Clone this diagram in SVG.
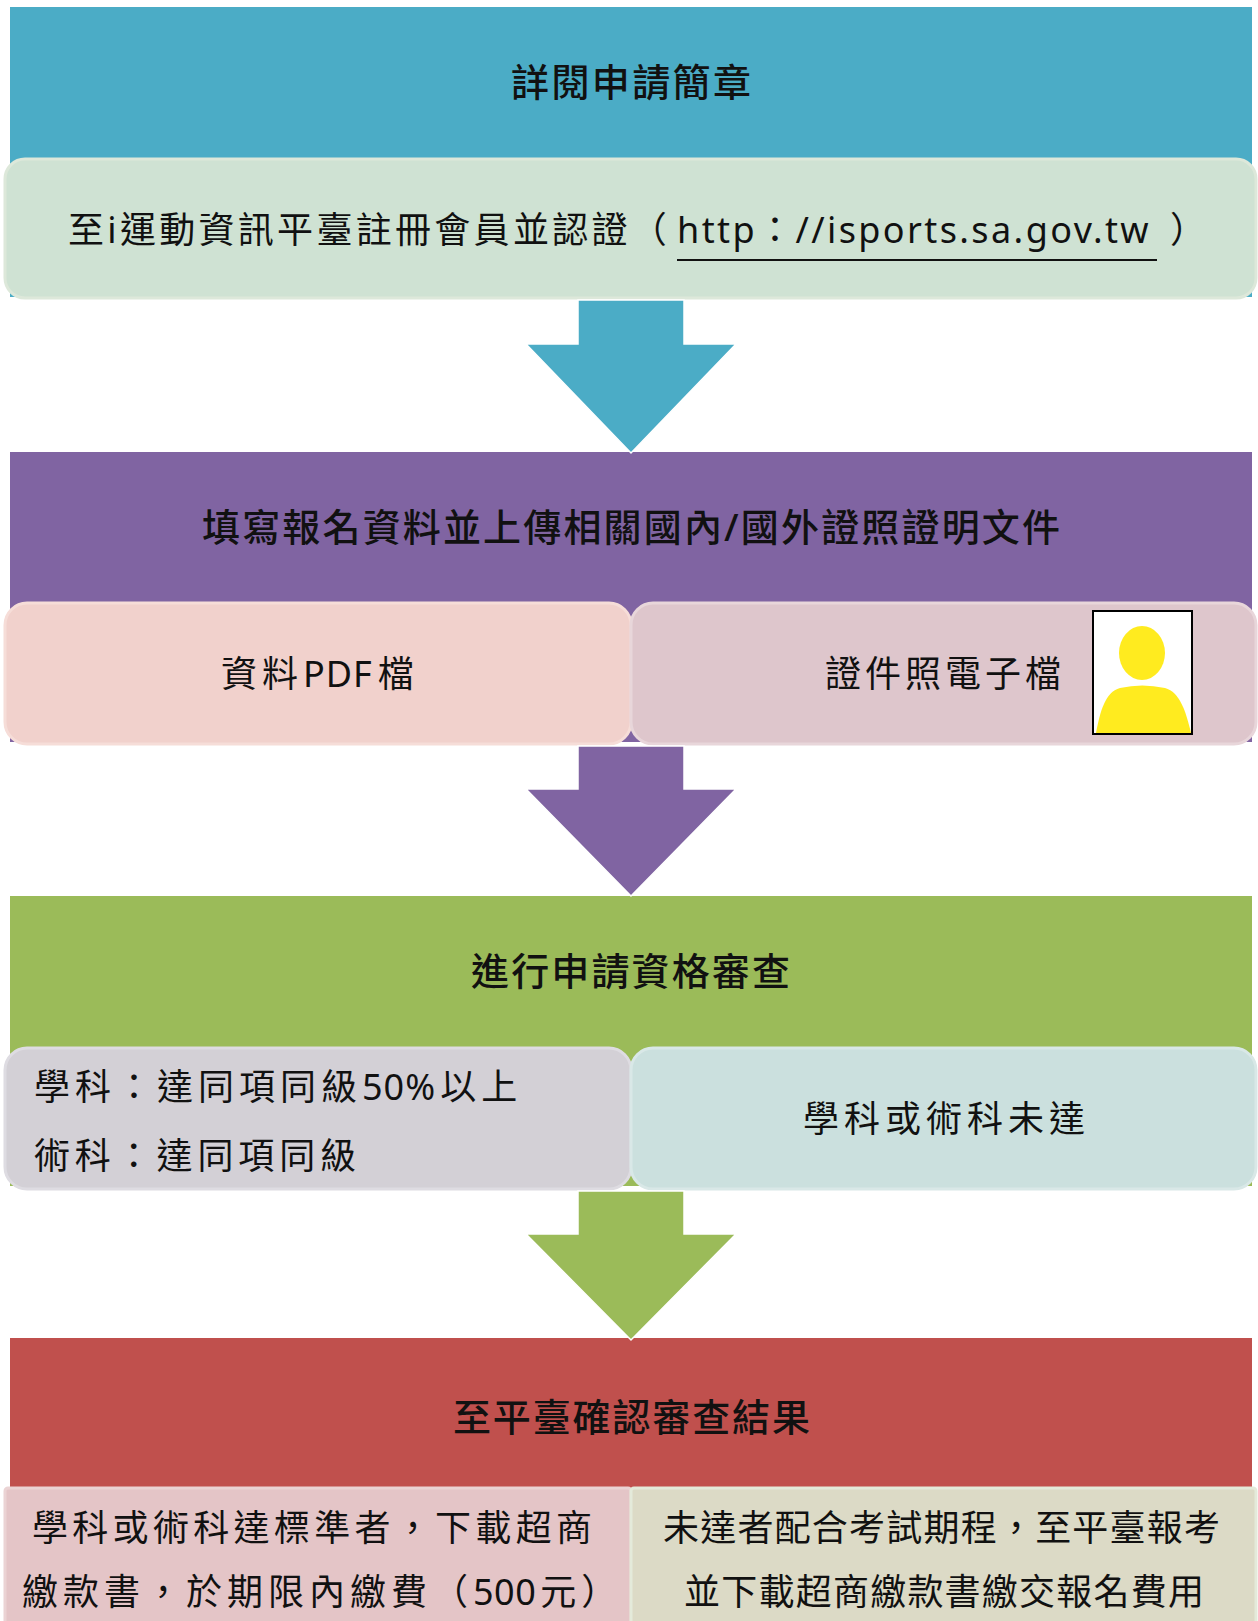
<svg xmlns="http://www.w3.org/2000/svg" width="1258" height="1621" viewBox="0 0 1258 1621">
  <style>
    text { font-family: "Noto Sans", "Noto Sans CJK TC", sans-serif; fill: #111111; }
    .hdr { font-size: 38px; font-weight: 500; }
    .box { font-size: 36px; }
    .hb { stroke: none; }
    .card { stroke-width: 3; }
    .arrow { stroke: #ffffff; stroke-width: 1.5; stroke-linejoin: miter; }
  </style>
  <rect x="0" y="0" width="1258" height="1621" fill="#ffffff"/>

  <!-- Step 1 -->
  <g id="step1-header">
    <rect class="hb" x="10" y="7" width="1242" height="290" fill="#4BACC6"/>
    <text class="hdr" x="511" y="96" textLength="240">詳閱申請簡章</text>
  </g>
  <g id="step1-register">
    <rect class="card" x="5" y="159" width="1251" height="139" rx="20" fill="#CFE2D3" stroke="#DDE8DA"/>
    <text class="box" y="243"><tspan x="68" letter-spacing="3.3">至i運動資訊平臺註冊會員並認證（</tspan><tspan x="677" letter-spacing="2.4">http：//isports.sa.gov.tw</tspan><tspan x="1170">）</tspan></text>
    <line x1="677" y1="260" x2="1157" y2="260" stroke="#111111" stroke-width="2"/>
  </g>

  <!-- Step 2 -->
  <g id="step2-header">
    <rect class="hb" x="10" y="452" width="1242" height="290" fill="#8064A2"/>
    <text class="hdr" x="202" y="541" textLength="858">填寫報名資料並上傳相關國內/國外證照證明文件</text>
  </g>
  <g id="step2-pdf">
    <rect class="card" x="5" y="603" width="626" height="141" rx="22" fill="#F1D1CC" stroke="#F6DDD8"/>
    <text class="box" x="221" y="687" letter-spacing="5">資料<tspan letter-spacing="1">PDF</tspan><tspan dx="5">檔</tspan></text>
  </g>
  <g id="step2-photo">
    <rect class="card" x="631" y="603" width="625" height="141" rx="22" fill="#DEC6CC" stroke="#E8D6DA"/>
    <text class="box" x="825" y="687" textLength="236">證件照電子檔</text>
    <rect x="1093" y="611" width="99" height="123" fill="#ffffff" stroke="#000000" stroke-width="2"/>
    <ellipse cx="1142" cy="653" rx="23" ry="27" fill="#FFEB1F"/>
    <path d="M1096,733 C1100,712 1105,692 1120,688 Q1142,683 1165,688 C1180,692 1186,712 1191,733 Z" fill="#FFEB1F"/>
  </g>

  <!-- Step 3 -->
  <g id="step3-header">
    <rect class="hb" x="10" y="896" width="1242" height="290" fill="#9BBB59"/>
    <text class="hdr" x="471" y="985" textLength="319">進行申請資格審查</text>
  </g>
  <g id="step3-pass">
    <rect class="card" x="5" y="1048" width="626" height="141" rx="22" fill="#D3D0D6" stroke="#DEDCE2"/>
    <text class="box" x="34" y="1100" letter-spacing="5">學科：達同項同級<tspan letter-spacing="1">50%</tspan><tspan dx="4">以上</tspan></text>
    <text class="box" x="34" y="1169" textLength="322">術科：達同項同級</text>
  </g>
  <g id="step3-fail">
    <rect class="card" x="631" y="1048" width="625" height="141" rx="22" fill="#CBE0DE" stroke="#D9E8E7"/>
    <text class="box" x="803" y="1132" textLength="282">學科或術科未達</text>
  </g>

  <!-- Step 4 -->
  <g id="step4-header">
    <rect class="hb" x="10" y="1338" width="1242" height="160" fill="#C0504D"/>
    <text class="hdr" x="453" y="1431" textLength="357">至平臺確認審查結果</text>
  </g>
  <g id="step4-pass">
    <rect class="card" x="5" y="1488" width="626" height="150" rx="3" fill="#E4C5C7" stroke="#EBD3D4"/>
    <text class="box" x="32" y="1541" textLength="560">學科或術科達標準者，下載超商</text>
    <text class="box" x="22" y="1605" letter-spacing="5">繳款書，於期限內繳費（<tspan letter-spacing="0.5">500</tspan><tspan dx="4">元）</tspan></text>
  </g>
  <g id="step4-fail">
    <rect class="card" x="631" y="1488" width="625" height="150" rx="3" fill="#DCDAC6" stroke="#E4EADA"/>
    <text class="box" x="663" y="1541" textLength="557">未達者配合考試期程，至平臺報考</text>
    <text class="box" x="684" y="1605" textLength="520">並下載超商繳款書繳交報名費用</text>
  </g>

  <!-- Connectors -->
  <g id="connectors">
    <path class="arrow" d="M578,300 H684 V344 H736 L631,453 L526,344 H578 Z" fill="#4BACC6"/>
    <path class="arrow" d="M578,746 H684 V789 H736 L631,896 L526,789 H578 Z" fill="#8064A2"/>
    <path class="arrow" d="M578,1191 H684 V1234 H736 L631,1340 L526,1234 H578 Z" fill="#9BBB59"/>
  </g>
</svg>
